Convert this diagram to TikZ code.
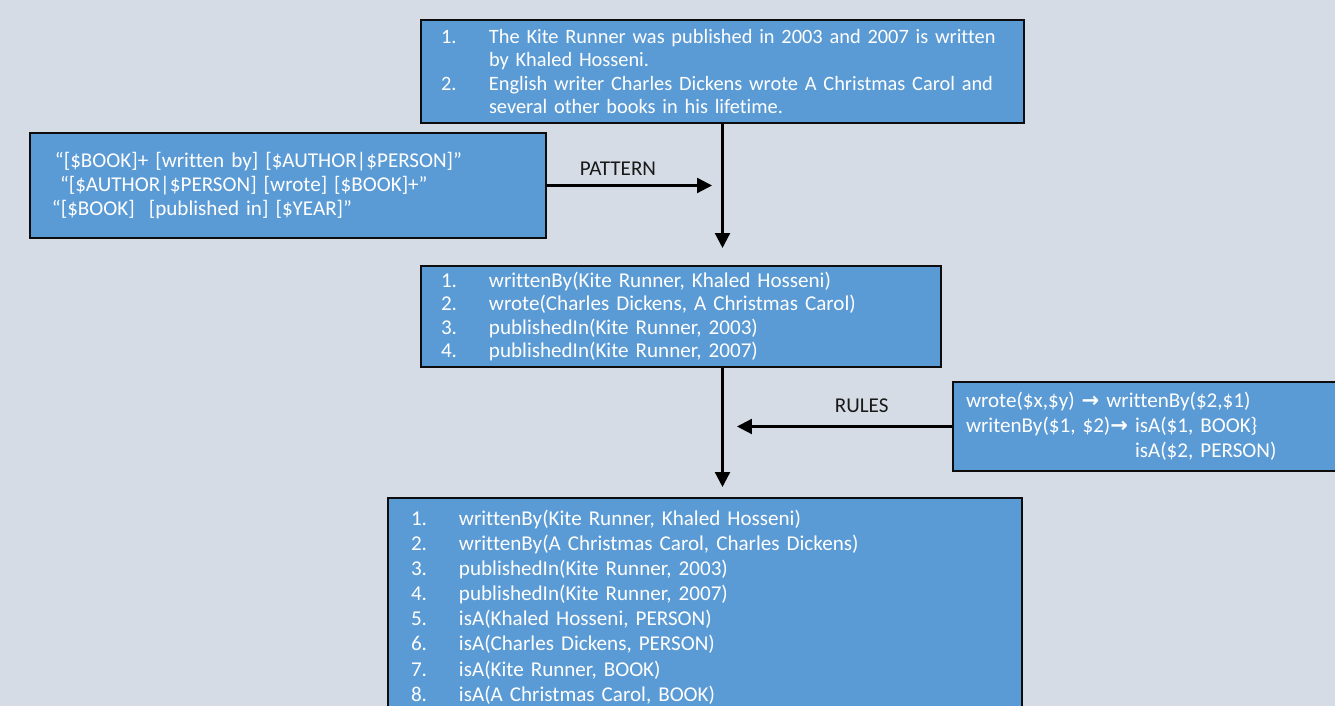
\documentclass[tikz,border=0pt]{standalone}
\usepackage{fontspec}
\setmainfont{Carlito}[Ligatures=NoCommon]
\newfontfamily\arrowfont{DejaVu Sans}
\usetikzlibrary{arrows.meta}
\definecolor{pagebg}{HTML}{D6DCE5}
\definecolor{boxblue}{HTML}{5B9BD5}
\definecolor{boxline}{HTML}{0D0D0D}
\newcommand{\itm}[2]{\makebox[0.96cm][l]{#1}\mbox{#2}}
\newcommand{\rarr}{{\arrowfont\bfseries\char"2192}}

\begin{document}
\begin{tikzpicture}[
    every node/.style={font=\fontsize{12}{14}\selectfont},
    block/.style={draw=boxline, line width=1.3pt, fill=boxblue, text=white, align=left, inner ysep=0pt},
    arr/.style={-{Triangle[length=8.5pt, width=8.5pt]}, line width=1.3pt},
    lbl/.style={text=black!90, inner sep=0pt},
]
    \path[use as bounding box, fill=pagebg] (0,0) rectangle (26.7,14.12);

    % Top: input sentences
    \node[block, text width=11.26cm, inner xsep=0.4cm, minimum height=2.06cm,
          font=\fontsize{11.6}{13.2}\selectfont] (src) at (14.45,12.69)
        {\itm{1.}{The Kite Runner was published in 2003 and 2007 is written}\\
         \itm{}{by Khaled Hosseni.}\\
         \itm{2.}{English writer Charles Dickens wrote A Christmas Carol and}\\
         \itm{}{several other books in his lifetime.}};

    % Left: extraction patterns
    \node[block, text width=9.44cm, inner xsep=0.44cm, minimum height=2.1cm,
          font=\fontsize{12}{13.6}\selectfont] (pat) at (5.76,10.41)
        {\hspace*{0.06cm}“[\$BOOK]+ [written by] [\$AUTHOR|\$PERSON]”\\
         \hspace*{0.16cm}“[\$AUTHOR|\$PERSON] [wrote] [\$BOOK]+”\\
         “[\$BOOK]\ \ [published in] [\$YEAR]”};

    % Middle: extracted facts
    \node[block, text width=9.6cm, inner xsep=0.4cm, minimum height=2.02cm,
          font=\fontsize{12}{13.1}\selectfont] (facts) at (13.62,7.79)
        {\itm{1.}{writtenBy(Kite Runner, Khaled Hosseni)}\\
         \itm{2.}{wrote(Charles Dickens, A Christmas Carol)}\\
         \itm{3.}{publishedIn(Kite Runner, 2003)}\\
         \itm{4.}{publishedIn(Kite Runner, 2007)}};

    % Right: inference rules
    \node[block, text width=7.32cm, inner xsep=0.26cm, minimum height=1.78cm,
          font=\fontsize{12}{14.2}\selectfont] (rules) at (22.98,5.59)
        {wrote(\$x,\$y) \rarr{} writtenBy(\$2,\$1)\\
         writenBy(\$1, \$2)\rarr{} isA(\$1, BOOK\}\\
         \hphantom{writenBy(\$1, \$2)\rarr{} }isA(\$2, PERSON)};

    % Bottom: inferred facts
    \node[block, text width=11.76cm, inner xsep=0.46cm, minimum height=4.36cm,
          font=\fontsize{12}{14.3}\selectfont] (res) at (14.1,1.98)
        {\itm{1.}{writtenBy(Kite Runner, Khaled Hosseni)}\\
         \itm{2.}{writtenBy(A Christmas Carol, Charles Dickens)}\\
         \itm{3.}{publishedIn(Kite Runner, 2003)}\\
         \itm{4.}{publishedIn(Kite Runner, 2007)}\\
         \itm{5.}{isA(Khaled Hosseni, PERSON)}\\
         \itm{6.}{isA(Charles Dickens, PERSON)}\\
         \itm{7.}{isA(Kite Runner, BOOK)}\\
         \itm{8.}{isA(A Christmas Carol, BOOK)}};

    % Arrow ends
    \coordinate (srcend) at (14.45,9.16);
    \coordinate (patend) at (14.24,10.41);
    \coordinate (factsend) at (14.45,4.38);
    \coordinate (rulesend) at (14.74,5.59);

    % Arrows with labels
    \draw[arr] (src.south) -- (srcend);
    \draw[arr] (pat.east) -- node[lbl, above=4.8pt, pos=0.43] {PATTERN} (patend);
    \draw[arr] (facts.south -| srcend) -- (factsend);
    \draw[arr] (rules.west) -- node[lbl, above=7pt, pos=0.42] {RULES} (rulesend);
\end{tikzpicture}
\end{document}
